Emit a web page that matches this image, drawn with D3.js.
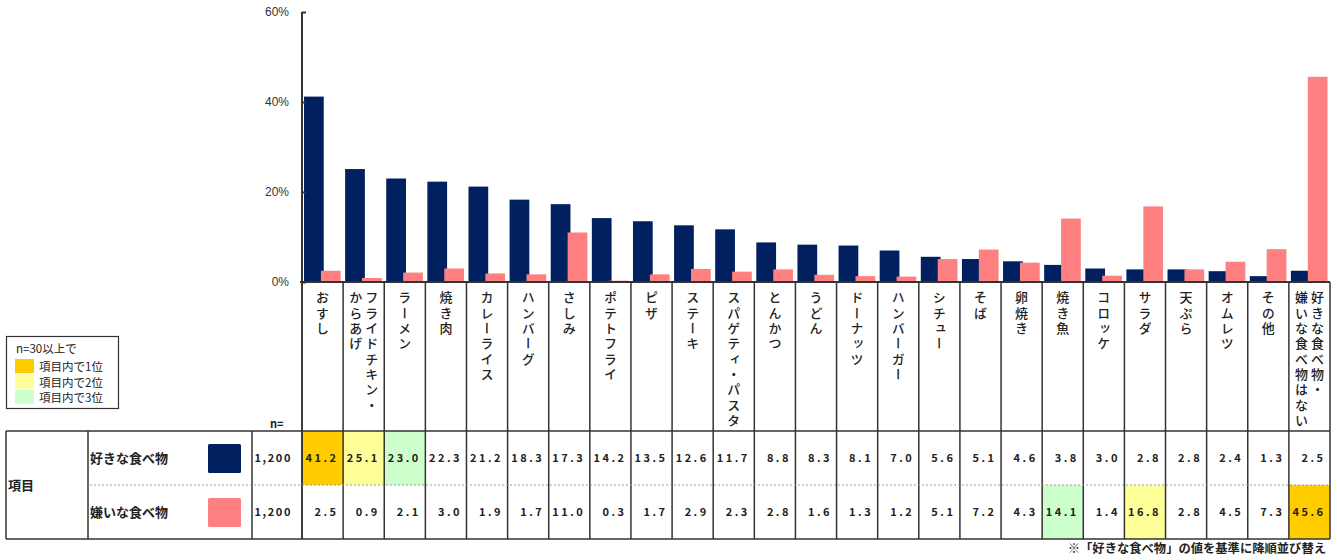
<!DOCTYPE html>
<html>
<head>
<meta charset="utf-8">
<script src="https://cdn.jsdelivr.net/npm/d3@7"></script>
<style>
  body { margin: 0; background: #fff; }
  svg { display: block; font-family: "Noto Sans CJK JP", sans-serif; }
</style>
</head>
<body>
<div id="chart"></div>
<script>
// categories (line breaks mark where the vertical label wraps)
const categories = ["おすし", "フライドチキン・\nからあげ", "ラーメン", "焼き肉", "カレーライス", "ハンバーグ",
  "さしみ", "ポテトフライ", "ピザ", "ステーキ", "スパゲティ・パスタ", "とんかつ", "うどん", "ドーナッツ",
  "ハンバーガー", "シチュー", "そば", "卵焼き", "焼き魚", "コロッケ", "サラダ", "天ぷら", "オムレツ",
  "その他", "好きな食べ物・\n嫌いな食べ物はない"];
const likes = [41.2, 25.1, 23.0, 22.3, 21.2, 18.3, 17.3, 14.2, 13.5, 12.6, 11.7, 8.8, 8.3, 8.1, 7.0,
  5.6, 5.1, 4.6, 3.8, 3.0, 2.8, 2.8, 2.4, 1.3, 2.5];
const dislikes = [2.5, 0.9, 2.1, 3.0, 1.9, 1.7, 11.0, 0.3, 1.7, 2.9, 2.3, 2.8, 1.6, 1.3, 1.2,
  5.1, 7.2, 4.3, 14.1, 1.4, 16.8, 2.8, 4.5, 7.3, 45.6];
const seriesNames = ["好きな食べ物", "嫌いな食べ物"];
const seriesN = ["1,200", "1,200"];
const yTicks = [0, 20, 40, 60];
const rankLabels = ["項目内で1位", "項目内で2位", "項目内で3位"];

const W = 1337, H = 560;
const navy = "#002060", pink = "#ff8080";
const rankColors = ["#ffcc00", "#ffff99", "#ccffcc"];
const lineCol = "#333";

const svg = d3.select("#chart").append("svg").attr("width", W).attr("height", H);

// scales
const x = d3.scaleBand().domain(d3.range(categories.length)).range([302, 1330]);
const y = d3.scaleLinear().domain([0, 60]).range([282, 12]);
const bw = x.bandwidth();

// bars
const bars = svg.append("g");
bars.selectAll(".like").data(likes).join("rect")
  .attr("x", (d, i) => x(i) + 2).attr("width", bw * 0.48)
  .attr("y", d => y(d)).attr("height", d => y(0) - y(d)).attr("fill", navy);
bars.selectAll(".dislike").data(dislikes).join("rect")
  .attr("x", (d, i) => x(i) + bw * 0.46).attr("width", bw * 0.48)
  .attr("y", d => y(d)).attr("height", d => y(0) - y(d)).attr("fill", pink);

// y axis
svg.append("g")
  .attr("transform", "translate(302,0)")
  .call(d3.axisRight(y).tickValues(yTicks).tickSize(4).tickFormat(d => d + "%"))
  .call(g => g.select(".domain").attr("stroke", lineCol).attr("stroke-width", 2).attr("d", "M0," + y(60) + "V" + y(0)))
  .call(g => g.selectAll(".tick line").attr("stroke", lineCol).attr("stroke-width", 2))
  .call(g => g.selectAll(".tick text").attr("x", -13).attr("text-anchor", "end")
    .attr("fill", "#333").style("font-family", "Liberation Sans, Arial, sans-serif").style("font-size", "12px"));

// x baseline
svg.append("line").attr("x1", 300).attr("x2", 1330).attr("y1", y(0)).attr("y2", y(0))
  .attr("stroke", lineCol).attr("stroke-width", 2);

// table geometry
const tTop = 431, tMid = 485, tBot = 539;
const rowMid = [(tTop + tMid) / 2, (tMid + tBot) / 2];

// highlight cells (top 3 within each row)
[likes, dislikes].forEach((vals, r) => {
  const order = d3.range(vals.length).sort((a, b) => vals[b] - vals[a]).slice(0, 3);
  order.forEach((ci, k) => {
    svg.append("rect").attr("x", x(ci)).attr("y", r === 0 ? tTop : tMid)
      .attr("width", bw).attr("height", tMid - tTop).attr("fill", rankColors[k]);
  });
});

// category dividers from axis down through the table
const grid = svg.append("g").attr("stroke", lineCol).attr("stroke-width", 1.5);
grid.selectAll("line.v").data(d3.range(categories.length + 1)).join("line")
  .attr("x1", i => i < categories.length ? x(i) : x(i - 1) + bw)
  .attr("x2", i => i < categories.length ? x(i) : x(i - 1) + bw)
  .attr("y1", y(0)).attr("y2", tBot);
grid.append("line").attr("x1", 302).attr("x2", 302).attr("y1", y(0)).attr("y2", tBot);
// table frame
grid.append("line").attr("x1", 6).attr("x2", 1330).attr("y1", tTop).attr("y2", tTop);
grid.append("line").attr("x1", 6).attr("x2", 1330).attr("y1", tBot).attr("y2", tBot);
[6, 88, 252].forEach(xx => grid.append("line").attr("x1", xx).attr("x2", xx).attr("y1", tTop).attr("y2", tBot));
svg.append("line").attr("x1", 90).attr("x2", 1330).attr("y1", tMid).attr("y2", tMid)
  .attr("stroke", "#999").attr("stroke-width", 1).attr("stroke-dasharray", "2,2");

// vertical category labels
const labels = svg.append("g").attr("fill", "#222").style("font-size", "13px").style("font-weight", "500");
categories.forEach((c, i) => {
  const cols = c.split("\n");
  const cx = x(i) + bw / 2;
  cols.forEach((t, k) => {
    const off = cols.length === 1 ? 0 : (k === 0 ? 8 : -8);
    labels.append("text")
      .attr("x", cx + off).attr("y", 291)
      .style("writing-mode", "vertical-rl")
      .style("letter-spacing", "2.3px")
      .text(t);
  });
});

// table text
svg.append("text").attr("x", 8).attr("y", tMid + 5).style("font-size", "13px").style("font-weight", "bold")
  .attr("fill", "#222").text("項目");
svg.append("text").attr("x", 270).attr("y", 428).style("font-size", "11px").style("font-weight", "bold")
  .attr("fill", "#222").text("n=");
seriesNames.forEach((s, r) => {
  svg.append("text").attr("x", 90).attr("y", rowMid[r] + 5).style("font-size", "13px")
    .style("font-weight", "bold").attr("fill", "#222").text(s);
  svg.append("rect").attr("x", 208).attr("y", rowMid[r] - 14).attr("width", 33).attr("height", 29)
    .attr("rx", 1.5).attr("fill", r === 0 ? navy : pink);
  svg.append("text").attr("x", 292).attr("y", rowMid[r] + 4).attr("text-anchor", "end")
    .style("font-size", "11px").style("font-weight", "bold").style("letter-spacing", "1.6px")
    .attr("fill", "#222").text(seriesN[r]);
});
[likes, dislikes].forEach((vals, r) => {
  svg.append("g").selectAll("text").data(vals).join("text")
    .attr("x", (d, i) => x(i) + bw - 4.5).attr("y", rowMid[r] + 4).attr("text-anchor", "end")
    .style("font-size", "11px").style("font-weight", "bold").style("letter-spacing", "2.5px")
    .attr("fill", "#222").text(d => d.toFixed(1));
});

// rank legend box
const lg = svg.append("g");
lg.append("rect").attr("x", 6.5).attr("y", 336.5).attr("width", 112).attr("height", 72)
  .attr("fill", "#fff").attr("stroke", lineCol).attr("stroke-width", 1.2);
lg.append("text").attr("x", 16).attr("y", 353).style("font-size", "11.5px").attr("fill", "#222").text("n=30以上で");
rankLabels.forEach((t, k) => {
  lg.append("rect").attr("x", 15).attr("y", 359 + k * 15.5).attr("width", 19).attr("height", 14).attr("fill", rankColors[k]);
  lg.append("text").attr("x", 39).attr("y", 371 + k * 15.5).style("font-size", "11.5px").attr("fill", "#222").text(t);
});

// footnote
svg.append("text").attr("x", 1326).attr("y", 553).attr("text-anchor", "end")
  .style("font-size", "12.3px").style("font-weight", "bold").attr("fill", "#222")
  .text("※「好きな食べ物」の値を基準に降順並び替え");
</script>
</body>
</html>
